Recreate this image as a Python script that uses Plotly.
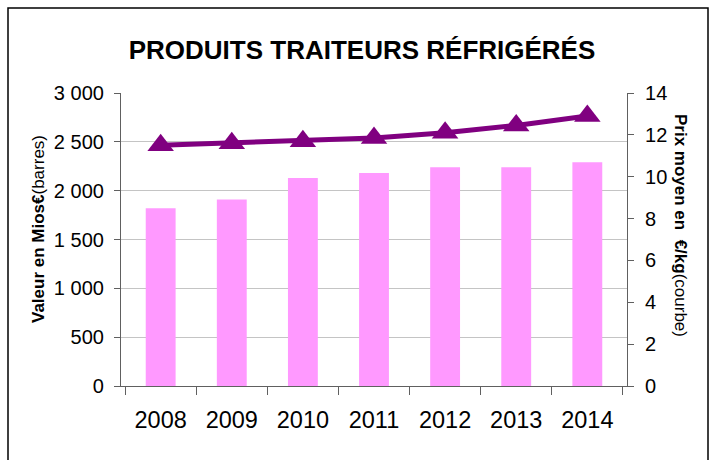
import plotly.graph_objects as go

years = ["2008", "2009", "2010", "2011", "2012", "2013", "2014"]
valeur_mios = [1820, 1910, 2130, 2180, 2240, 2240, 2290]
prix_kg = [11.5, 11.6, 11.7, 11.85, 12.1, 12.45, 12.9]

FONT = "Liberation Sans, Arial, sans-serif"
W, H = 714, 460
L, R, T, B = 121, 87, 93, 74
pw, ph = W - L - R, H - T - B

def px_x(x):
    return (x - L) / pw

def px_y(y):
    return (H - B - y) / ph

fig = go.Figure()
fig.add_trace(go.Bar(x=years, y=valeur_mios, marker=dict(color="#FF99FF", line=dict(width=0)),
                     yaxis="y", hoverinfo="x+y"))
fig.add_trace(go.Scatter(x=years, y=prix_kg, mode="lines+markers", yaxis="y2",
                         line=dict(color="#800080", width=5),
                         marker=dict(symbol="triangle-up", size=23, color="#800080")))

fig.update_layout(
    width=W, height=H,
    margin=dict(l=L, r=R, t=T, b=B),
    paper_bgcolor="white", plot_bgcolor="white",
    showlegend=False,
    bargap=0.58,
    separators=", ",
    font=dict(family=FONT, size=20, color="black"),
    title=dict(text="<b>PRODUITS TRAITEURS RÉFRIGÉRÉS</b>", x=362 / W, xanchor="center",
               y=1 - 50 / H, yanchor="middle", font=dict(size=26, family=FONT, color="black")),
    xaxis=dict(type="category", showline=True, linecolor="#606060", linewidth=1.2,
               ticks="outside", ticklen=8, tickcolor="#606060", tickson="boundaries",
               showgrid=False, tickfont=dict(size=23.5), ticklabelstandoff=13),
    yaxis=dict(range=[0, 3000], dtick=500, tick0=0, separatethousands=True,
               showline=True, linecolor="#606060", linewidth=1.2,
               ticks="outside", ticklen=6, tickcolor="#606060",
               showgrid=True, gridcolor="#C4C4C4", gridwidth=1, zeroline=False,
               tickfont=dict(size=20), ticklabelstandoff=6),
    yaxis2=dict(range=[0, 14], dtick=2, tick0=0, overlaying="y", side="right",
                showline=True, linecolor="#606060", linewidth=1.2,
                ticks="outside", ticklen=6, tickcolor="#606060",
                showgrid=False, zeroline=False, tickfont=dict(size=20), ticklabelstandoff=7),
    shapes=[dict(type="rect", xref="paper", yref="paper",
                 x0=px_x(8), x1=px_x(708), y0=px_y(480), y1=px_y(8),
                 line=dict(color="black", width=1.5), fillcolor="rgba(0,0,0,0)", layer="above")],
    annotations=[
        dict(text="<b>Valeur en Mios€</b>(barres)", xref="paper", yref="paper",
             x=px_x(38), y=px_y(229), textangle=-90, showarrow=False,
             xanchor="center", yanchor="middle", font=dict(size=17, family=FONT, color="black")),
        dict(text="<b>Prix moyen en  €/kg</b>(courbe)", xref="paper", yref="paper",
             x=px_x(681), y=px_y(225), textangle=90, showarrow=False,
             xanchor="center", yanchor="middle", font=dict(size=17, family=FONT, color="black")),
    ],
)

fig.write_html("out.html", config={"displayModeBar": False},
               post_script="document.body.style.margin='0px';document.body.style.overflow='hidden';")
